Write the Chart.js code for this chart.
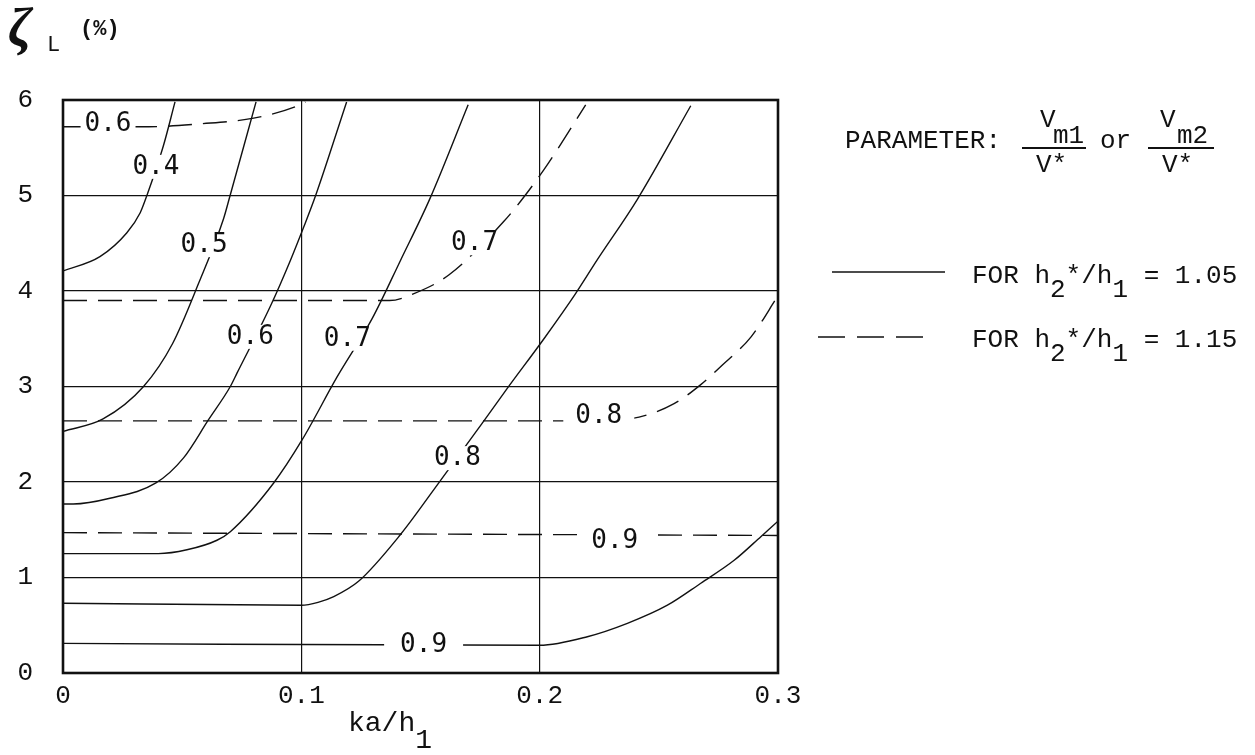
<!DOCTYPE html>
<html>
<head>
<meta charset="utf-8">
<script src="https://cdn.jsdelivr.net/npm/chart.js@4.4.1/dist/chart.umd.min.js"></script>
<style>
  body { margin: 0; background: #fff; }
  canvas { display: block; }
</style>
</head>
<body>
<canvas id="chart" width="1255" height="755"></canvas>
<script>
const xTicks = [0, 0.1, 0.2, 0.3];
const xTickLabels = ["0", "0.1", "0.2", "0.3"];
const yTicks = [0, 1, 2, 3, 4, 5, 6];

// solid curves, h2*/h1 = 1.05
const x04 = [0, 0.0155, 0.0268, 0.0324, 0.0352, 0.042, 0.047];
const y04 = [4.21, 4.36, 4.61, 4.82, 5.0, 5.51, 5.98];
const x05 = [0, 0.0168, 0.0338, 0.046, 0.0569, 0.0674, 0.070, 0.081];
const y05 = [2.53, 2.66, 3.0, 3.45, 4.08, 4.76, 4.99, 5.98];
const x06 = [0, 0.0043, 0.0197, 0.039, 0.0505, 0.061, 0.0702, 0.073, 0.087, 0.0954, 0.101, 0.106, 0.119];
const y06 = [1.77, 1.77, 1.83, 1.99, 2.25, 2.65, 3.0, 3.14, 3.84, 4.32, 4.67, 5.0, 5.98];
const x07 = [0, 0.04, 0.052, 0.0646, 0.0702, 0.0884, 0.1003, 0.115, 0.1297, 0.1416, 0.154, 0.170];
const y07 = [1.25, 1.25, 1.29, 1.39, 1.48, 1.99, 2.44, 3.10, 3.71, 4.32, 4.97, 5.95];
const x08 = [0, 0.1, 0.107, 0.1136, 0.124, 0.1416, 0.1556, 0.176, 0.1864, 0.2018, 0.215, 0.224, 0.241, 0.2634];
const y08 = [0.73, 0.71, 0.74, 0.80, 0.96, 1.45, 1.92, 2.62, 2.98, 3.50, 3.97, 4.32, 4.96, 5.94];
const x09 = [0, 0.2, 0.22, 0.2368, 0.2536, 0.2676, 0.2816, 0.2929, 0.3];
const y09 = [0.31, 0.29, 0.38, 0.52, 0.71, 0.94, 1.18, 1.43, 1.59];

// dashed curves, h2*/h1 = 1.15
const xd06 = [0, 0.036, 0.0576, 0.08, 0.0996, 0.1017];
const yd06 = [5.72, 5.72, 5.75, 5.81, 5.95, 5.98];
const xd07 = [0, 0.137, 0.147, 0.162, 0.185, 0.192, 0.2018, 0.2074, 0.2193];
const yd07 = [3.9, 3.9, 3.97, 4.17, 4.73, 4.94, 5.27, 5.48, 5.95];
const xd08 = [0, 0.22, 0.2417, 0.2564, 0.2676, 0.276, 0.2887, 0.3];
const yd08 = [2.64, 2.64, 2.68, 2.82, 3.02, 3.21, 3.52, 3.95];
const xd09 = [0, 0.3];
const yd09 = [1.47, 1.44];

// curve labels
const labelText = ["0.6", "0.4", "0.5", "0.6", "0.7", "0.7", "0.8", "0.8", "0.9", "0.9"];
const labelX = [0.0189, 0.039, 0.0592, 0.0786, 0.1193, 0.1727, 0.1655, 0.2248, 0.2315, 0.1513];
const labelY = [5.75, 5.30, 4.48, 3.52, 3.50, 4.50, 2.25, 2.69, 1.38, 0.29];
const labelGap = [4, 4, 4, 4, 4, 4, 4, 12, 14, 16];

const ink = "#111";
const mono = "'Liberation Mono', monospace";

function curve(xs, ys, dashed) {
  return {
    data: xs.map((x, i) => ({ x: x, y: ys[i] })),
    showLine: true,
    borderColor: ink,
    borderWidth: 1.4,
    borderDash: dashed ? [24, 11] : [],
    pointRadius: 0,
    cubicInterpolationMode: "monotone",
    fill: false,
  };
}

const datasets = [
  curve(x04, y04), curve(x05, y05), curve(x06, y06),
  curve(x07, y07), curve(x08, y08), curve(x09, y09),
  curve(xd06, yd06, true), curve(xd07, yd07, true),
  curve(xd08, yd08, true), curve(xd09, yd09, true),
];

function drawRich(ctx, x, y, parts, drop) {
  for (const p of parts) {
    ctx.fillText(p.t, x, p.sub ? y + drop : y);
    x += ctx.measureText(p.t).width;
  }
  return x;
}

const paperPlugin = {
  id: "paper",
  afterDatasetsDraw(chart) {
    const ctx = chart.ctx;
    const xs = chart.scales.x, ys = chart.scales.y;
    const a = chart.chartArea;
    ctx.save();
    ctx.font = "26px 'DejaVu Sans Mono'";
    ctx.textAlign = "center";
    ctx.textBaseline = "middle";
    labelText.forEach((t, i) => {
      const px = xs.getPixelForValue(labelX[i]);
      const py = ys.getPixelForValue(labelY[i]);
      const w = ctx.measureText(t).width;
      const g = labelGap[i];
      ctx.fillStyle = "#fff";
      ctx.fillRect(px - w / 2 - g, py - 12, w + 2 * g, 24);
      ctx.fillStyle = ink;
      ctx.fillText(t, px, py);
    });
    ctx.strokeStyle = ink;
    ctx.lineWidth = 2.6;
    ctx.setLineDash([]);
    ctx.strokeRect(a.left, a.top, a.right - a.left, a.bottom - a.top);
    ctx.restore();
  },
  afterDraw(chart) {
    const ctx = chart.ctx;
    ctx.save();
    ctx.fillStyle = ink;
    ctx.textBaseline = "alphabetic";
    ctx.textAlign = "left";
    // y-axis title
    ctx.font = "italic bold 54px 'Liberation Serif'";
    ctx.fillText("ζ", 8, 46);
    ctx.font = "22px " + mono;
    ctx.fillText("L", 47, 51);
    ctx.font = "bold 22px " + mono;
    ctx.fillText("(%)", 80, 35);
    // x-axis title
    ctx.font = "28px " + mono;
    drawRich(ctx, 348, 731, [{ t: "ka/h" }, { t: "1", sub: true }], 17);
    // parameter note
    ctx.font = "26px " + mono;
    ctx.fillText("PARAMETER:", 845, 148);
    ctx.fillText("or", 1100, 148);
    ctx.fillText("V", 1040, 127);
    ctx.fillText("m1", 1053, 143);
    ctx.fillText("V*", 1036, 172);
    ctx.fillText("V", 1160, 127);
    ctx.fillText("m2", 1177, 143);
    ctx.fillText("V*", 1162, 172);
    ctx.strokeStyle = ink;
    ctx.lineWidth = 2.2;
    ctx.beginPath();
    ctx.moveTo(1022, 148); ctx.lineTo(1086, 148);
    ctx.moveTo(1148, 148); ctx.lineTo(1214, 148);
    ctx.stroke();
    // legend
    ctx.lineWidth = 1.6;
    ctx.beginPath();
    ctx.moveTo(832, 272); ctx.lineTo(945, 272);
    ctx.stroke();
    ctx.setLineDash([27, 12]);
    ctx.beginPath();
    ctx.moveTo(818, 337); ctx.lineTo(930, 337);
    ctx.stroke();
    ctx.setLineDash([]);
    drawRich(ctx, 972, 283, [{ t: "FOR h" }, { t: "2", sub: true }, { t: "*/h" }, { t: "1", sub: true }, { t: " = 1.05" }], 14);
    drawRich(ctx, 972, 347, [{ t: "FOR h" }, { t: "2", sub: true }, { t: "*/h" }, { t: "1", sub: true }, { t: " = 1.15" }], 14);
    ctx.restore();
  },
};

new Chart(document.getElementById("chart"), {
  type: "scatter",
  data: { datasets: datasets },
  options: {
    responsive: false,
    animation: false,
    layout: { padding: { top: 100, right: 477, left: 0, bottom: 0 } },
    plugins: { legend: { display: false }, tooltip: { enabled: false } },
    scales: {
      x: {
        type: "linear",
        min: 0,
        max: 0.3,
        afterBuildTicks: (s) => { s.ticks = xTicks.map((v) => ({ value: v })); },
        afterFit: (s) => { s.height = 82; },
        ticks: {
          callback: (v, i) => xTickLabels[i],
          font: { family: mono, size: 26 },
          color: ink,
          padding: 8,
          maxRotation: 0,
          autoSkip: false,
        },
        grid: { color: ink, lineWidth: 1.2, drawTicks: false },
        border: { display: false },
      },
      y: {
        type: "linear",
        min: 0,
        max: 6,
        afterBuildTicks: (s) => { s.ticks = yTicks.map((v) => ({ value: v })); },
        afterFit: (s) => { s.width = 63; },
        ticks: {
          font: { family: mono, size: 26 },
          color: ink,
          padding: 30,
          autoSkip: false,
        },
        grid: { color: ink, lineWidth: 1.2, drawTicks: false },
        border: { display: false },
      },
    },
  },
  plugins: [paperPlugin],
});
</script>
</body>
</html>
